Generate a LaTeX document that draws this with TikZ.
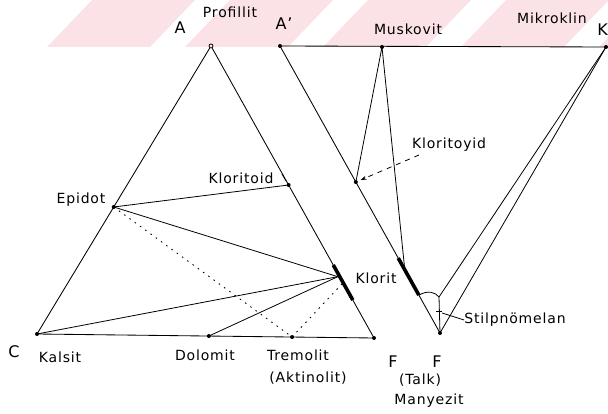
\documentclass[tikz,border=0pt]{standalone}
\usepackage{fontspec}
\setmainfont{DejaVu Sans}[LetterSpace=6]
\usetikzlibrary{calc,arrows.meta}
\definecolor{stripe}{RGB}{251,226,230}
\begin{document}
\begin{tikzpicture}[x=1pt,y=-1pt,
  edge/.style={line width=0.85pt},
  tie/.style={line width=0.8pt},
  dottie/.style={line width=0.9pt,dash pattern=on 1.5pt off 5pt},
  thickbar/.style={line width=3.6pt},
  dot/.style={circle,fill,inner sep=0pt,minimum size=4pt},
  ring/.style={circle,draw,line width=0.8pt,inner sep=0pt,minimum size=4pt},
  lbl/.style={font=\fontsize{14}{16}\selectfont,inner sep=0pt},
  pole/.style={font=\fontsize{16}{18}\selectfont,inner sep=0pt}]
\useasboundingbox (0,0) rectangle (608,414);

% pale slanted band along the top
\begin{scope}
  \clip (0,0) rectangle (608,47);
  \foreach \s in {47,185,323,461,599}
    \fill[stripe] (\s,47) -- ({\s+103},47) -- ({\s+148},0) -- ({\s+45},0) -- cycle;
\end{scope}

% ---------- ACF triangle ----------
\node[ring] (A) at (211,46) {};
\node[dot] (C) at (37,334) {};
\node[dot] (F) at (374,338) {};
\draw[edge] (A) -- (C.center) -- (F.center) -- (A);

\node[dot] (Ep) at ($(A)!0.559!(C)$) {};
\node[dot] (Kt) at ($(A)!0.476!(F)$) {};
\node[dot] (Do) at ($(C)!0.51!(F)$) {};
\node[dot] (Tr) at ($(C)!0.757!(F)$) {};
\coordinate (Kb1) at ($(A)!0.75!(F)$);
\coordinate (Kb2) at ($(A)!0.87!(F)$);
\coordinate (Kc) at ($(A)!0.79!(F)+(-2,0)$);
\coordinate (Kd) at ($(A)!0.815!(F)+(-2,0)$);
\draw[thickbar] (Kb1) -- (Kb2);

\draw[tie] (Ep.center) -- (Kt.center);
\draw[tie] (Ep.center) -- (Kc);
\draw[tie] (C.center) -- (Kc);
\draw[tie] (Do.center) -- (Kc);
\draw[dottie] (Ep.center) -- (Tr.center);
\draw[dottie] (Tr.center) -- (Kd);

% ---------- A'KF triangle ----------
\node[dot] (A2) at (280,46) {};
\node[dot] (Mu) at (382,47) {};
\node[dot] (K) at (606,47) {};
\node[dot] (F2) at (440,333) {};
\draw[edge] (A2.center) -- (K.center);
\draw[edge] (A2.center) -- (F2.center);

\node[dot] (Kr) at ($(A2)!0.474!(F2)$) {};
\coordinate (Mb) at ($(A2)!0.78!(F2)$);
\coordinate (Rb1) at ($(A2)!0.739!(F2)$);
\coordinate (Rb2) at ($(A2)!0.868!(F2)$);
\coordinate (St) at (439,297);
\draw[thickbar] (Rb1) -- (Rb2);

\draw[tie] (Mu.center) -- (Kr.center);
\draw[tie] (Mu.center) -- (Mb);
\draw[tie] (Rb2) .. controls (428,290) and (435,292) .. (St);
\draw[tie] (St) -- (F2.center);
\draw[tie] (K.center) -- (St);
\draw[tie] (K.center) -- (F2.center);
\coordinate (Sk) at (436,311);
\draw[tie] (Sk) -- ++(6,0);

% ---------- labels ----------
\node[lbl] (lProf) at (230,12) {Profillit};
\node[pole] (lA) at (180,28) {A};
\node[pole] (lA2) at (284,24) {A'};
\node[lbl] (lMu) at (408,29) {Muskovit};
\node[lbl] (lMik) at (552,18) {Mikroklin};
\node[pole,anchor=east] (lK) at (608,30) {K};

\node[lbl] (lKt) at (241,178) {Kloritoid};
\draw[tie] (282,174) -- (286,181);
\node[lbl] (lEp) at (81,200) {Epidot};
\node[lbl] (lKl) at (376,278) {Klorit};
\node[pole] (lC) at (14,352) {C};
\node[lbl] (lKa) at (60,357) {Kalsit};
\node[lbl] (lDo) at (205,355) {Dolomit};
\node[lbl] (lTr) at (298,355) {Tremolit};
\node[lbl] (lAk) at (308,378) {(Aktinolit)};
\node[pole] (lF) at (393,362) {F};
\node[pole] (lF2) at (437,362) {F};
\node[lbl] (lTa) at (420,380) {(Talk)};
\node[lbl] (lMa) at (429,401) {Manyezit};

\node[lbl] (lKr) at (449,145) {Kloritoyid};
\draw[tie,dash pattern=on 5pt off 5pt,-{Stealth[length=6pt,width=4pt]},shorten >=3pt]
  (419,155) -- (Kr);
\node[lbl] (lSt) at (515,320) {Stilpnömelan};
\draw[tie] (442,313) -- (lSt.west);
\end{tikzpicture}
\end{document}
